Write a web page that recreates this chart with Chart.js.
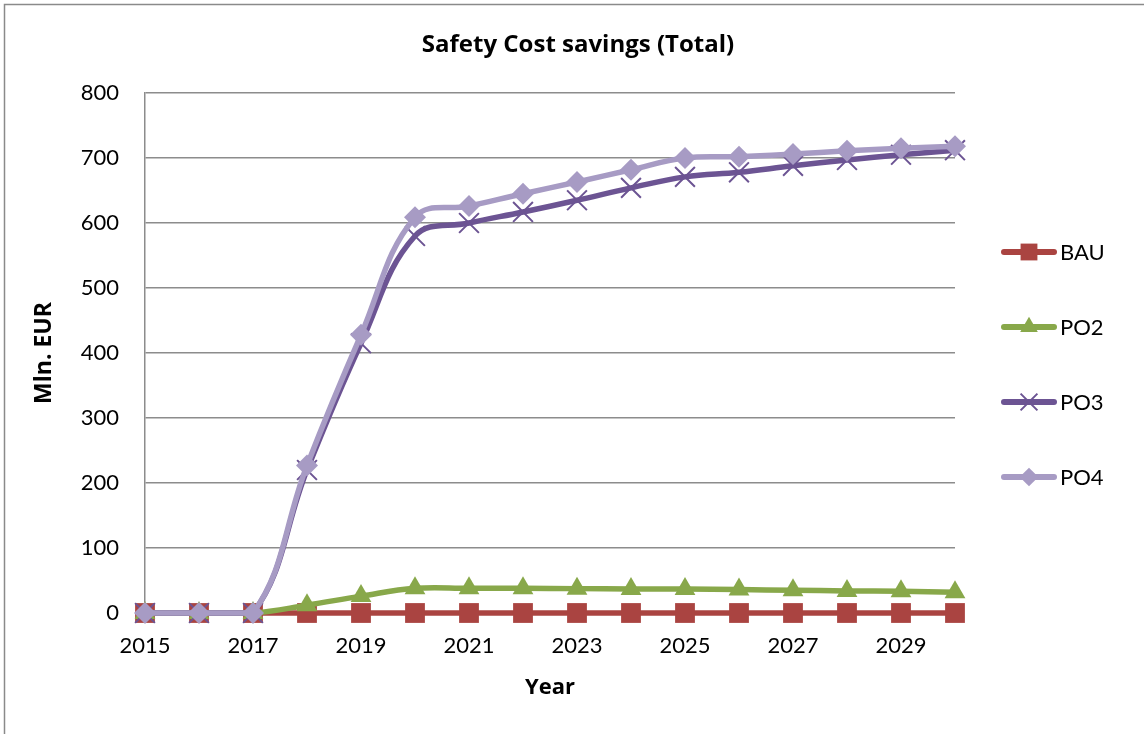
<!DOCTYPE html>
<html>
<head>
<meta charset="utf-8">
<script src="https://cdn.jsdelivr.net/npm/chart.js@4/dist/chart.umd.min.js"></script>
<style>
  html, body { margin: 0; padding: 0; background: #fff; }
  #wrap { width: 1144px; height: 734px; position: relative; }
</style>
</head>
<body>
<div id="wrap"><canvas id="chart" width="1144" height="734"></canvas></div>
<script>
// data
const years = ['2015','2016','2017','2018','2019','2020','2021','2022','2023','2024','2025','2026','2027','2028','2029','2030'];
const bau = [0,0,0,0,0,0,0,0,0,0,0,0,0,0,0,0];
const po2 = [0,0,0,12,26,38,38,38,37.5,37,37,36,35,34,33.5,32];
const po3 = [0,0,0,220,415,580,600,617,635,654,671,678,688,697,705,712];
const po4 = [0,0,0,227,428,609,626,645,663,682,700,702,706,711,715,718];
const yTicks = [0,100,200,300,400,500,600,700,800];

const FONT = 'Lato, "Open Sans", sans-serif';
const BOLD = '"Open Sans", Lato, sans-serif';
const GRID = '#8c8c8c';

function serie(label, data, color, style, radius, order) {
  return {
    label, data, order,
    clip: false,
    borderColor: color,
    backgroundColor: color,
    borderWidth: 5.5,
    pointStyle: style,
    pointRadius: radius,
    pointHoverRadius: radius,
    pointBorderWidth: style === 'crossRot' ? 2 : 0,
    pointBorderColor: color,
    pointBackgroundColor: color,
    tension: 0.4,
    cubicInterpolationMode: 'default'
  };
}

// frame, title and legend drawn by hand, Excel style
const extras = {
  id: 'extras',
  beforeDraw(chart) {
    const ctx = chart.ctx;
    ctx.save();
    ctx.fillStyle = '#fff';
    ctx.fillRect(0, 0, chart.width, chart.height);
    ctx.strokeStyle = '#8a8a8a';
    ctx.lineWidth = 1.5;
    ctx.beginPath();
    ctx.moveTo(4.5, chart.height);
    ctx.lineTo(4.5, 4.5);
    ctx.lineTo(chart.width, 4.5);
    ctx.stroke();
    ctx.restore();
  },
  afterDraw(chart) {
    const ctx = chart.ctx;
    ctx.save();
    ctx.fillStyle = '#000';
    ctx.font = 'bold 24px ' + BOLD;
    ctx.textAlign = 'center';
    ctx.textBaseline = 'middle';
    ctx.fillText('Safety Cost savings (Total)', 578, 45);

    const rows = [252, 327, 402, 477];
    chart.data.datasets.forEach((ds, i) => {
      const y = rows[i];
      const cross = ds.pointStyle === 'crossRot';
      ctx.strokeStyle = ds.borderColor;
      ctx.fillStyle = ds.borderColor;
      ctx.lineWidth = 6;
      ctx.lineCap = 'round';
      ctx.beginPath();
      ctx.moveTo(1004, y);
      ctx.lineTo(1054, y);
      ctx.stroke();
      ctx.lineCap = 'butt';
      ctx.lineWidth = 2;
      Chart.helpers.drawPoint(ctx, {
        pointStyle: ds.pointStyle,
        radius: ds.pointRadius * 0.85,
        borderWidth: cross ? 2 : 0
      }, 1029, y);
      ctx.fillStyle = '#000';
      ctx.font = '22px ' + FONT;
      ctx.textBaseline = 'middle';
      ctx.textAlign = 'left';
      ctx.fillText(ds.label, 1060, y + 1);
    });
    ctx.restore();
  }
};

new Chart(document.getElementById('chart'), {
  type: 'line',
  data: {
    labels: years,
    datasets: [
      serie('BAU', bau, '#AA4441', 'rect', 14, 4),
      serie('PO2', po2, '#88A84A', 'triangle', 12, 3),
      serie('PO3', po3, '#6C5493', 'crossRot', 14, 2),
      serie('PO4', po4, '#A79BC4', 'rectRot', 11, 1)
    ]
  },
  options: {
    responsive: false,
    animation: false,
    layout: { padding: { left: 0, right: 189, top: 93, bottom: 0 } },
    plugins: {
      legend: { display: false },
      tooltip: { enabled: false },
      title: { display: false }
    },
    scales: {
      x: {
        offset: false,
        grid: { display: false, drawTicks: false },
        border: { display: true, color: GRID, width: 1.5 },
        ticks: {
          autoSkip: false,
          maxRotation: 0,
          padding: 20,
          color: '#000',
          font: { family: FONT, size: 22 },
          callback: (v, i) => i % 2 === 0 ? years[i] : ''
        },
        title: {
          display: true, text: 'Year', color: '#000',
          font: { family: BOLD, size: 22, weight: 'bold' },
          padding: { top: 0, bottom: 33 }
        },
        afterFit: s => { s.height = 121; }
      },
      y: {
        min: 0, max: 800,
        afterBuildTicks: s => { s.ticks = yTicks.map(v => ({ value: v })); },
        grid: { color: GRID, lineWidth: 1.5, drawTicks: false },
        border: { display: true, color: GRID, width: 1.5 },
        ticks: {
          padding: 26,
          color: '#000',
          font: { family: FONT, size: 22 }
        },
        title: {
          display: true, text: 'Mln. EUR', color: '#000',
          font: { family: BOLD, size: 23, weight: 'bold' },
          padding: { top: 31, bottom: 0 }
        },
        afterFit: s => { s.width = 145; }
      }
    }
  },
  plugins: [extras]
});
</script>
</body>
</html>
